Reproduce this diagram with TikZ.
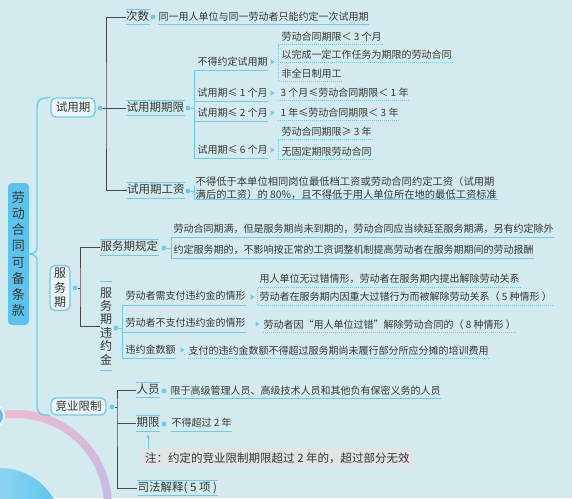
\documentclass[tikz,border=0pt]{standalone}
\usepackage{fontspec}
\setmainfont{Noto Sans CJK SC}
\usepackage{tikz}
\usetikzlibrary{arrows.meta,positioning,calc,shapes.geometric}

\definecolor{bgteal}{RGB}{211,235,238}
\definecolor{rootcyan}{RGB}{92,196,236}
\definecolor{linecyan}{RGB}{108,204,240}
\definecolor{darkline}{RGB}{72,72,72}
\definecolor{inktext}{RGB}{55,55,55}
\definecolor{notegray}{RGB}{226,228,230}
\definecolor{pinkarc}{RGB}{240,186,206}
\definecolor{lilacarc}{RGB}{196,186,228}
\newcommand{\fsz}[2]{\fontsize{#1}{#2}\selectfont}

\begin{document}
\begin{tikzpicture}[x=1pt,y=-1pt,
    every node/.style={text=inktext},
    rootbox/.style={rectangle, rounded corners=4pt, fill=rootcyan, minimum width=21pt, minimum height=142pt, inner sep=0pt, align=center, font=\fsz{13}{16.2}},
    topic/.style={rectangle, rounded corners=5pt, draw=linecyan, line width=1.3pt, fill=bgteal!50!white, inner sep=0pt, font=\fsz{11.5}{13}},
    branch/.style={anchor=west, inner xsep=0.5pt, inner ysep=2.75pt, text height=0.8em, text depth=0.2em, font=\fsz{11.5}{13}},
    sub/.style={anchor=west, inner xsep=0.5pt, inner ysep=3pt, text height=0.8em, text depth=0.2em, font=\fsz{10}{12}},
    leaf/.style={anchor=west, inner xsep=0.5pt, inner ysep=2.5pt, text height=0.8em, text depth=0.2em, font=\fsz{10}{12}},
    para/.style={anchor=west, inner xsep=0.5pt, inner ysep=0.5pt, align=left, font=\fsz{10.3}{12.5}},
    bullet/.style={circle, fill=linecyan, inner sep=0pt, minimum size=5pt},
    tri/.style={isosceles triangle, isosceles triangle apex angle=70, fill=linecyan, inner sep=0pt, minimum height=4pt, minimum width=4.5pt},
    stem/.style={draw=darkline, line width=1pt},
    uline/.style={draw=linecyan, line width=1pt},
    dline/.style={draw=linecyan, line width=1pt, dash pattern=on 0.8pt off 1.2pt},
    arrowc/.style={draw=linecyan, line width=1pt, -{Stealth[length=4pt,width=4pt]}, shorten >=3pt},
]
\clip (0,0) rectangle (572,498);
\fill[bgteal] (0,0) rectangle (572,498);

% ornaments, lower left
\shade[left color=rootcyan!45!white, right color=rootcyan] (0,530) circle[radius=62];
\foreach \a [evaluate=\a as \m using {(\a+97)*100/97}] in {-97,-92,...,-2}
  \draw[line width=8pt, color=lilacarc!\m!pinkarc] (16,506) ++(\a:92) arc[start angle=\a, end angle=\a+5.5, radius=92];
\filldraw[fill=rootcyan, draw=white, line width=1.5pt] (-7,416) circle[radius=11];

% root and main topics
\node[rootbox] (root) at (18.5,254) {劳\\动\\合\\同\\可\\备\\条\\款};
\node[topic, minimum width=44pt, minimum height=19pt] (syq) at (73,107.5) {试用期};
\node[topic, minimum width=20pt, minimum height=45pt, align=center, font=\fsz{12}{14.5}] (fwq) at (60,288) {服\\务\\期};
\node[topic, minimum width=55pt, minimum height=17pt] (jy) at (78.5,406.5) {竞业限制};
\draw[uline, line width=1.4pt] (syq.north west) -- (46,98) .. controls (40,98) and (37,101) .. (37,107)
  -- (37,248) .. controls (37,252) and (33,254) .. (root.east) .. controls (33,254) and (37,256) .. (37,260)
  -- (37,406) .. controls (37,412) and (40,415) .. (46,415) -- (jy.south west);

% 试用期
\node[bullet] (b-syq) at (100,108) {};
\coordinate (j1) at (106,108);
\node[branch] (cs) at (125.5,17) {次数};
\node[branch] (qx) at (126,108) {试用期期限};
\node[branch] (gz) at (126.5,190.5) {试用期工资};
\draw[stem] (b-syq) -- (qx.west);
\draw[stem] (cs.west) -| (j1) |- (gz.west);

\node[bullet] (b-cs) at (153,17) {};
\node[leaf] (cs1) at (158,17) {同一用人单位与同一劳动者只能约定一次试用期};
\draw[uline] (cs1.south west) -- (cs1.south east);

\node[bullet] (b-qx) at (188,108) {};
\coordinate (j2) at (194,108);
\node[sub] (nd) at (197,62) {不得约定试用期};
\node[sub] (m1) at (197,93) {试用期≤ 1 个月};
\node[sub] (m2) at (197,113) {试用期≤ 2 个月};
\node[sub] (m6) at (197,150) {试用期≤ 6 个月};
\draw[uline] (b-qx) -- (j2);
\draw[uline] (nd.south east) -- (nd.south west -| j2) -- (m6.south west -| j2) -- (m6.south east);
\foreach \n in {m1,m2}
  \draw[uline] (\n.south west -| j2) -- (\n.south east);
\foreach \n/\y in {nd/62,m1/93,m2/113,m6/150}
  \node[tri] (t-\n) at (272,\y) {};

\coordinate (j3) at (278,62);
\node[leaf] (nd1) at (281,37) {劳动合同期限＜ 3 个月};
\node[leaf] (nd2) at (281,55) {以完成一定工作任务为期限的劳动合同};
\node[leaf] (nd3) at (281,74) {非全日制用工};
\draw[dline] (nd1.south east) -- (nd1.south west -| j3) -- (nd3.south west -| j3) -- (nd3.south east);
\draw[dline] (nd2.south west -| j3) -- (nd2.south east);
\node[leaf] (m1a) at (280,93) {3 个月≤劳动合同期限＜ 1 年};
\node[leaf] (m2a) at (280,113) {1 年≤劳动合同期限＜ 3 年};
\foreach \n in {m1a,m2a}
  \draw[dline] (\n.south west -| j3) -- (\n.south east);
\node[leaf] (m6a) at (281,132) {劳动合同期限≥ 3 年};
\node[leaf] (m6b) at (281,152) {无固定期限劳动合同};
\draw[dline] (m6a.south east) -- (m6a.south west -| j3) -- (m6b.south west -| j3) -- (m6b.south east);

\node[bullet] (b-gz) at (188,191) {};
\coordinate (j4) at (194,191);
\node[para] (gz1) at (195,188) {不得低于本单位相同岗位最低档工资或劳动合同约定工资（试用期\\满后的工资）的 80\%，且不得低于用人单位所在地的最低工资标准};
\draw[uline] (b-gz) -- (j4);
\draw[uline] (gz1.south east) -- (gz1.south west -| j4) -- ++(0,-14);

% 服务期
\node[bullet] (b-fwq) at (75,288) {};
\coordinate (j5) at (80,288);
\node[branch] (gd) at (100,247.5) {服务期规定};
\node[anchor=west, inner sep=0pt, minimum width=12pt, minimum height=88pt, align=center, font=\fsz{12}{13.4}] (wy) at (100,326) {服\\务\\期\\违\\约\\金};
\draw[stem] (b-fwq) -- (j5);
\draw[stem] (gd.west) -| (j5) |- (wy.west);

\node[bullet] (b-gd) at (164,248) {};
\coordinate (j6) at (171,248);
\node[leaf] (gd1) at (173,229.5) {劳动合同期满，但是服务期尚未到期的，劳动合同应当续延至服务期满，另有约定除外};
\node[leaf] (gd2) at (173,250.5) {约定服务期的，不影响按正常的工资调整机制提高劳动者在服务期期间的劳动报酬};
\draw[uline] (b-gd) -- (j6);
\draw[uline] (gd1.south east) -- (gd1.south west -| j6) -- (gd2.south west -| j6) -- (gd2.south east);

\node[bullet] (b-wy) at (116,328) {};
\coordinate (j7) at (122,328);
\node[sub, inner ysep=3.5pt] (wa) at (125,296.5) {劳动者需支付违约金的情形};
\node[sub, inner ysep=3.5pt] (wb) at (125,323.5) {劳动者不支付违约金的情形};
\node[sub] (wc) at (125,350) {违约金数额};
\draw[uline] (b-wy) -- (j7);
\draw[uline] (wa.south east) -- (wa.south west -| j7) -- (wc.south west -| j7) -- (wc.south east);
\draw[uline] (wb.south west -| j7) -- (wb.south east);
\node[tri] (t-wa) at (252,297) {};
\node[tri] (t-wb) at (257,324) {};
\node[tri] (t-wc) at (182,350) {};

\coordinate (j8) at (257,297);
\node[leaf] (wa1) at (259,279.5) {用人单位无过错情形，劳动者在服务期内提出解除劳动关系};
\node[leaf] (wa2) at (259,297.5) {劳动者在服务期内因重大过错行为而被解除劳动关系（ 5 种情形 ）};
\draw[dline] (wa1.south east) -- (wa1.south west -| j8) -- (wa2.south west -| j8) -- (wa2.south east);
\node[leaf] (wb1) at (263,325) {劳动者因“用人单位过错”解除劳动合同的（ 8 种情形 ）};
\node[leaf] (wc1) at (188,351) {支付的违约金数额不得超过服务期尚未履行部分所应分摊的培训费用};
\foreach \n in {wb1,wc1}
  \draw[dline] (\n.south west) -- (\n.south east);

% 竞业限制
\node[bullet] (b-jy) at (112,407) {};
\coordinate (j9) at (117,407);
\node[branch] (ry) at (136,390) {人员};
\node[branch] (qxj) at (136,423.5) {期限};
\node[branch] (sf) at (137,488) {司法解释( 5 项 )};
\draw[stem] (b-jy) -- (j9);
\draw[stem] (ry.west) -| (j9) |- (sf.west);
\draw[stem] (qxj.west -| j9) -- (qxj.west);

\node[bullet] (b-ry) at (164,391) {};
\node[leaf] (ry1) at (170,391) {限于高级管理人员、高级技术人员和其他负有保密义务的人员};
\node[bullet] (b-qxj) at (164,424) {};
\node[leaf] (qxj1) at (171,423.5) {不得超过 2 年};
\foreach \n in {ry1,qxj1}
  \draw[uline] (\n.south west) -- (\n.south east);

\node[anchor=west, rectangle, rounded corners=7pt, fill=notegray, minimum height=18pt, inner xsep=5pt, inner ysep=0pt, font=\fsz{11.5}{13}] (nt) at (140,458) {注：约定的竞业限制期限超过 2 年的，超过部分无效};
\coordinate (na) at ($(nt.north west)+(8,0)$);
\draw[arrowc] (na) -- (na |- qxj.south);

% lines above and below the branch labels
\foreach \n in {cs,qx,gz,gd,wy,ry,qxj,sf}
  \draw[uline] (\n.north west) -- (\n.north east) (\n.south west) -- (\n.south east);
\end{tikzpicture}
\end{document}
